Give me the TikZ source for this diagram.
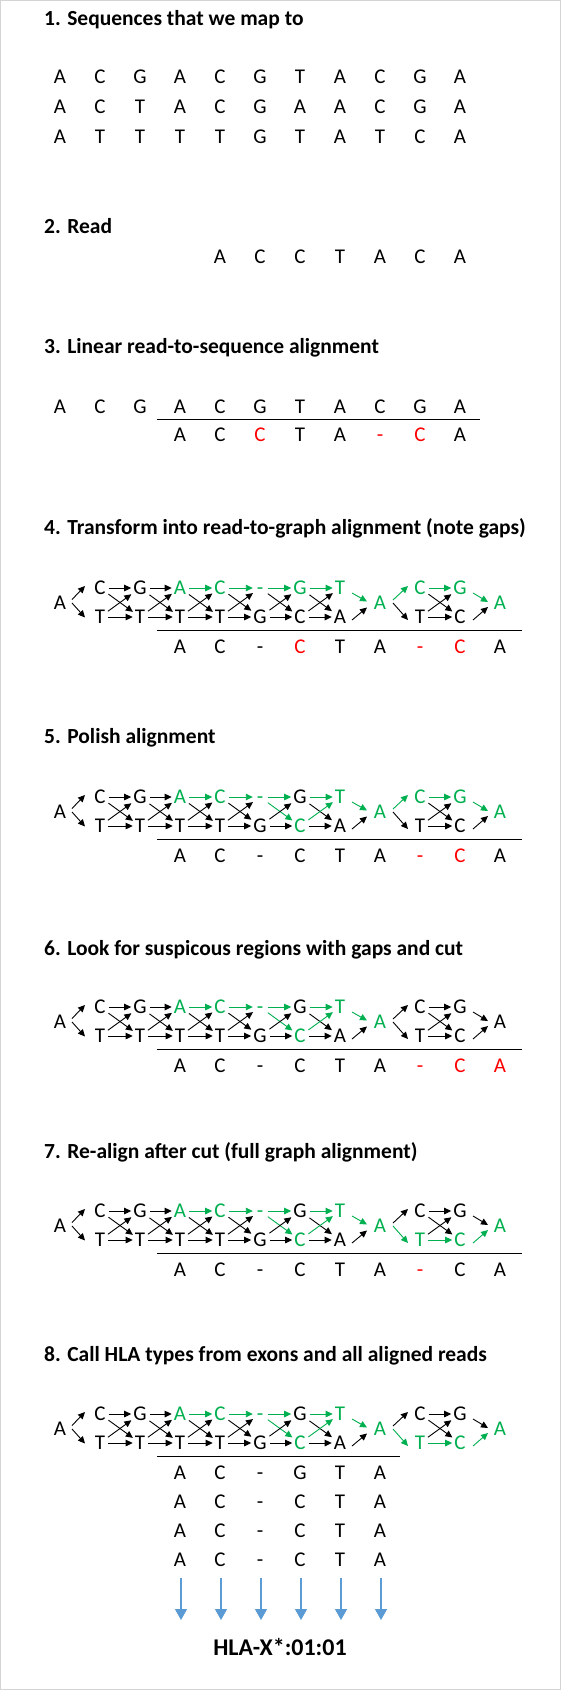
\documentclass[tikz,border=0pt]{standalone}
\usepackage{fontspec}
\setmainfont{Carlito}
\usetikzlibrary{arrows.meta,calc}
\definecolor{grn}{HTML}{00B050}
\definecolor{rd}{HTML}{FF0000}
\definecolor{blu}{HTML}{5B9BD5}
\definecolor{framegray}{HTML}{D4D4D4}
\tikzset{
  ttl/.style={anchor=base west, font=\fontsize{21.5}{25}\selectfont\bfseries, inner sep=0pt},
  lt/.style={font=\fontsize{21}{25}\selectfont, inner sep=0pt, text height=13.5pt, text depth=0pt},
  gn/.style={lt, inner sep=1pt, minimum width=12pt},
  arr/.style={line width=0.9pt, -{Triangle[length=7pt,width=6.5pt]}, shorten <=2pt, shorten >=1pt},
  fan/.style={line width=0.9pt, -{Triangle[length=7pt,width=6.5pt]}},
  gN/.style={text=grn},
  gE/.style={grn},
  rr/.style={text=rd},
  blarr/.style={blu, line width=1.2pt, -{Triangle[length=11pt,width=12pt]}},
  rulel/.style={line width=1pt},
  sixgreen/.style={n3t/.style=gN, n4t/.style=gN, n5t/.style=gN, n6b/.style=gN, n7t/.style=gN, n8/.style=gN,
    e3t4t/.style=gE, e4t5t/.style=gE, e5t6t/.style=gE, e5t6b/.style=gE, e6b7t/.style=gE, e6t7t/.style=gE, e7t8/.style=gE},
  endgreen/.style={n9b/.style=gN, n10b/.style=gN, n11/.style=gN, e89b/.style=gE, e9b10b/.style=gE, e10b11/.style=gE}
}
\newcommand{\hed}[4]{\draw[arr,#4/.try] (#1n#2) -- (#1n#3);}
\newcommand{\fed}[6]{\draw[fan,#6/.try] ($(#1n#2)+#3$) -- ($(#1n#4)+#5$);}
\newcommand{\crossed}[3]{% prefix, k, k+1
  \hed{#1}{#2t}{#3t}{e#2t#3t}
  \hed{#1}{#2b}{#3b}{e#2b#3b}
  \hed{#1}{#2t}{#3b}{e#2t#3b}
  \hed{#1}{#2b}{#3t}{e#2b#3t}}
\newcommand{\hlagraph}[2]{%
  \node[gn,n0/.try] (#1n0) at (60,{#2+14.5}) {A};
  \node[gn,n1t/.try] (#1n1t) at (100,#2) {C};
  \node[gn,n1b/.try] (#1n1b) at (100,{#2+29}) {T};
  \node[gn,n2t/.try] (#1n2t) at (140,#2) {G};
  \node[gn,n2b/.try] (#1n2b) at (140,{#2+29}) {T};
  \node[gn,n3t/.try] (#1n3t) at (180,#2) {A};
  \node[gn,n3b/.try] (#1n3b) at (180,{#2+29}) {T};
  \node[gn,n4t/.try] (#1n4t) at (220,#2) {C};
  \node[gn,n4b/.try] (#1n4b) at (220,{#2+29}) {T};
  \node[gn,n5t/.try] (#1n5t) at (260,#2) {-};
  \node[gn,n5b/.try] (#1n5b) at (260,{#2+29}) {G};
  \node[gn,n6t/.try] (#1n6t) at (300,#2) {G};
  \node[gn,n6b/.try] (#1n6b) at (300,{#2+29}) {C};
  \node[gn,n7t/.try] (#1n7t) at (340,#2) {T};
  \node[gn,n7b/.try] (#1n7b) at (340,{#2+29}) {A};
  \node[gn,n8/.try] (#1n8) at (380,{#2+14.5}) {A};
  \node[gn,n9t/.try] (#1n9t) at (420,#2) {C};
  \node[gn,n9b/.try] (#1n9b) at (420,{#2+29}) {T};
  \node[gn,n10t/.try] (#1n10t) at (460,#2) {G};
  \node[gn,n10b/.try] (#1n10b) at (460,{#2+29}) {C};
  \node[gn,n11/.try] (#1n11) at (500,{#2+14.5}) {A};
  \fed{#1}{0}{(12,-3)}{1t}{(-15,-2)}{e01t}
  \fed{#1}{0}{(12,0.5)}{1b}{(-15,0.5)}{e01b}
  \crossed{#1}{1}{2}\crossed{#1}{2}{3}\crossed{#1}{3}{4}
  \crossed{#1}{4}{5}\crossed{#1}{5}{6}\crossed{#1}{6}{7}
  \fed{#1}{7t}{(12,5)}{8}{(-13,-1)}{e7t8}
  \fed{#1}{7b}{(12,3)}{8}{(-13,5)}{e7b8}
  \fed{#1}{8}{(13,-2.5)}{9t}{(-12,-2)}{e89t}
  \fed{#1}{8}{(13,0.5)}{9b}{(-12,3)}{e89b}
  \crossed{#1}{9}{10}
  \fed{#1}{10t}{(13,5)}{11}{(-12,-0.5)}{e10t11}
  \fed{#1}{10b}{(13,3)}{11}{(-12,4.5)}{e10b11}
}
\newcommand{\seqrow}[4]{% prefix, first column, y, list of letter/style
  \foreach \ch/\st [count=\i from #2] in {#4} {
    \node[lt,\st] (#1c\i) at ({60+40*\i},#3) {\ch};
  }}
\begin{document}
\begin{tikzpicture}[x=1pt,y=-1pt]
\useasboundingbox (0,0) rectangle (561,1690);
\fill[white] (0,0) rectangle (561,1690);
\draw[framegray, line width=1pt] (0.5,0.5) rectangle (560.5,1689.5);
% 1
\node[ttl] (t1) at (44,25) {1. Sequences that we map to};
\seqrow{s1a}{0}{77}{A/,C/,G/,A/,C/,G/,T/,A/,C/,G/,A/}
\seqrow{s1b}{0}{107}{A/,C/,T/,A/,C/,G/,A/,A/,C/,G/,A/}
\seqrow{s1c}{0}{137}{A/,T/,T/,T/,T/,G/,T/,A/,T/,C/,A/}
% 2
\node[ttl] (t2) at (44,233) {2. Read};
\seqrow{s2}{4}{257}{A/,C/,C/,T/,A/,C/,A/}
% 3
\node[ttl] (t3) at (44,353) {3. Linear read-to-sequence alignment};
\seqrow{s3a}{0}{407}{A/,C/,G/,A/,C/,G/,T/,A/,C/,G/,A/}
\draw[rulel] (157,419) -- (480,419);
\seqrow{s3b}{3}{435}{A/,C/,C/rr,T/,A/,-/rr,C/rr,A/}
% 4
\node[ttl] (t4) at (44,534) {4. Transform into read-to-graph alignment (note gaps)};
\begin{scope}[n3t/.style=gN, n4t/.style=gN, n5t/.style=gN, n6t/.style=gN, n7t/.style=gN, n8/.style=gN, n9t/.style=gN, n10t/.style=gN, n11/.style=gN,
  e3t4t/.style=gE, e4t5t/.style=gE, e5t6t/.style=gE, e6t7t/.style=gE, e7t8/.style=gE, e89t/.style=gE, e9t10t/.style=gE, e10t11/.style=gE]
\hlagraph{s4}{588}
\end{scope}
\draw[rulel] (157,630) -- (522,630);
\seqrow{s4r}{3}{647}{A/,C/,-/,C/rr,T/,A/,-/rr,C/rr,A/}
% 5
\node[ttl] (t5) at (44,743) {5. Polish alignment};
\begin{scope}[sixgreen, n9t/.style=gN, n10t/.style=gN, n11/.style=gN, e89t/.style=gE, e9t10t/.style=gE, e10t11/.style=gE]
\hlagraph{s5}{797}
\end{scope}
\draw[rulel] (157,839) -- (522,839);
\seqrow{s5r}{3}{856}{A/,C/,-/,C/,T/,A/,-/rr,C/rr,A/}
% 6
\node[ttl] (t6) at (44,955) {6. Look for suspicous regions with gaps and cut};
\begin{scope}[sixgreen]
\hlagraph{s6}{1007}
\end{scope}
\draw[rulel] (157,1049) -- (522,1049);
\seqrow{s6r}{3}{1066}{A/,C/,-/,C/,T/,A/,-/rr,C/rr,A/rr}
% 7
\node[ttl] (t7) at (44,1158) {7. Re-align after cut (full graph alignment)};
\begin{scope}[sixgreen, endgreen]
\hlagraph{s7}{1211}
\end{scope}
\draw[rulel] (157,1253) -- (522,1253);
\seqrow{s7r}{3}{1270}{A/,C/,-/,C/,T/,A/,-/rr,C/,A/}
% 8
\node[ttl] (t8) at (44,1361) {8. Call HLA types from exons and all aligned reads};
\begin{scope}[sixgreen, endgreen]
\hlagraph{s8}{1414}
\end{scope}
\draw[rulel] (157,1456) -- (400,1456);
\seqrow{s8a}{3}{1473}{A/,C/,-/,G/,T/,A/}
\seqrow{s8b}{3}{1502}{A/,C/,-/,C/,T/,A/}
\seqrow{s8c}{3}{1531}{A/,C/,-/,C/,T/,A/}
\seqrow{s8d}{3}{1560}{A/,C/,-/,C/,T/,A/}
\foreach \i in {0,...,5} {
  \coordinate (bs\i) at ({181+40*\i},1578);
  \coordinate (be\i) at ({181+40*\i},1620);
  \draw[blarr] (bs\i) -- (be\i);
}
\node[anchor=base, font=\fontsize{24}{28}\selectfont\bfseries, inner sep=0pt] (hla) at (280,1655) {HLA-X*:01:01};
\end{tikzpicture}
\end{document}
